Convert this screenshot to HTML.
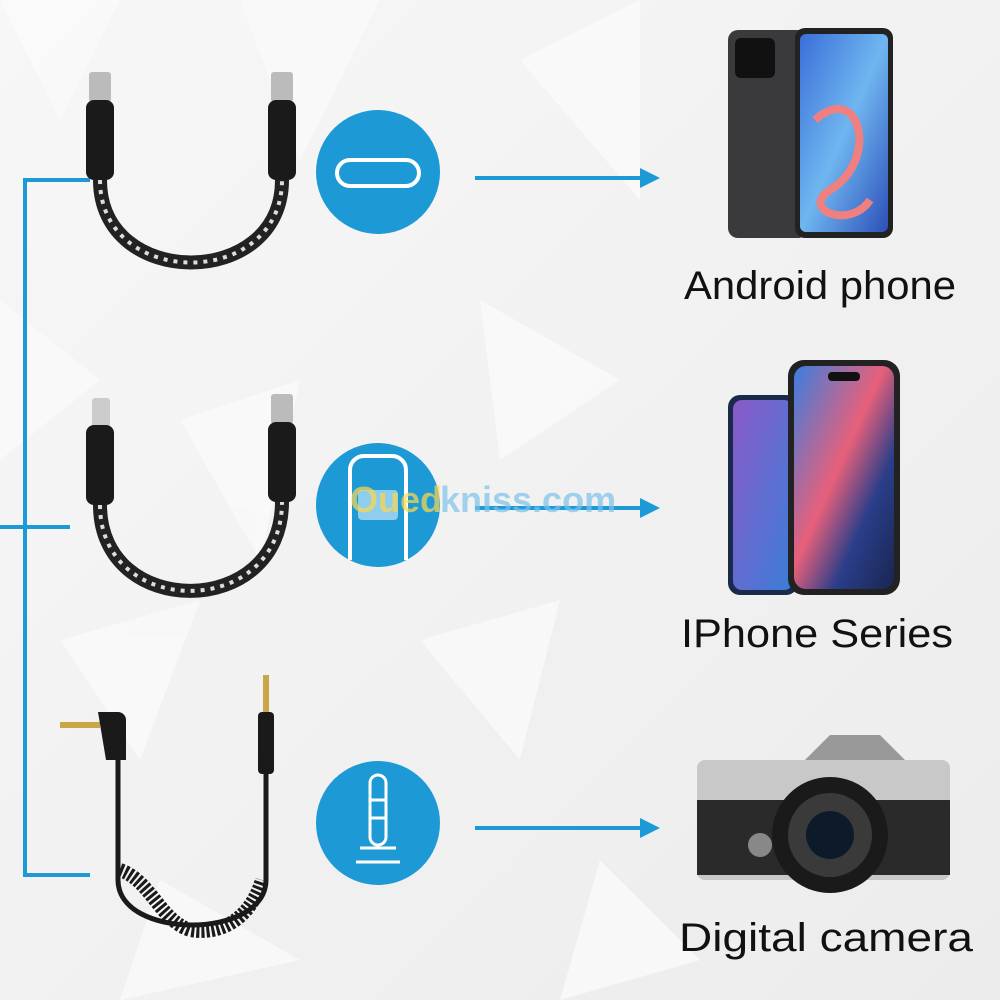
<!DOCTYPE html>
<html><head><meta charset="utf-8"><style>
html,body{margin:0;padding:0;width:1000px;height:1000px;overflow:hidden;background:#f2f2f2;}
svg{display:block}
text{font-family:"Liberation Sans",sans-serif;}
</style></head><body>
<svg width="1000" height="1000" viewBox="0 0 1000 1000">
<defs>
<linearGradient id="bg" x1="0" y1="0" x2="1" y2="1"><stop offset="0" stop-color="#f7f7f7"/><stop offset="1" stop-color="#ececec"/></linearGradient>
<linearGradient id="scr1" x1="0" y1="0" x2="1" y2="1"><stop offset="0" stop-color="#3a6fd8"/><stop offset="0.5" stop-color="#6fb6f0"/><stop offset="1" stop-color="#2c4fb8"/></linearGradient>
<linearGradient id="scr2" x1="0" y1="0" x2="1" y2="1"><stop offset="0" stop-color="#3a7ee0"/><stop offset="0.45" stop-color="#e8607a"/><stop offset="0.7" stop-color="#2a3e8a"/><stop offset="1" stop-color="#1a2550"/></linearGradient>
<linearGradient id="scr3" x1="0" y1="0" x2="1" y2="1"><stop offset="0" stop-color="#8a5ac8"/><stop offset="1" stop-color="#3a7ed8"/></linearGradient>
<marker id="ah" markerUnits="userSpaceOnUse" markerWidth="22" markerHeight="22" refX="2" refY="11" orient="auto"><path d="M0,1 L20,11 L0,21 z" fill="#1d9ad6"/></marker>
</defs>
<rect width="1000" height="1000" fill="url(#bg)"/>
<g fill="#fafafa" opacity="0.8">
<polygon points="0,0 120,0 60,120"/><polygon points="240,0 380,0 300,160"/><polygon points="520,60 640,0 640,200"/>
<polygon points="0,300 100,380 0,460"/><polygon points="180,420 300,380 260,560"/><polygon points="480,300 620,380 500,460"/>
<polygon points="60,640 200,600 140,760"/><polygon points="420,640 560,600 520,760"/><polygon points="600,860 700,960 560,1000"/>
<polygon points="160,880 300,960 120,1000"/>
</g>
<g stroke="#1d9ad6" stroke-width="4" fill="none">
<path d="M90,180 H25 V875 H90"/>
<path d="M0,527 H70"/>
</g>
<g stroke="#1d9ad6" stroke-width="4">
<line x1="475" y1="178" x2="642" y2="178" marker-end="url(#ah)"/>
<line x1="475" y1="508" x2="642" y2="508" marker-end="url(#ah)"/>
<line x1="475" y1="828" x2="642" y2="828" marker-end="url(#ah)"/>
</g>
<circle cx="378" cy="172" r="62" fill="#1d9ad6"/>
<rect x="337" y="160" width="82" height="26" rx="13" fill="none" stroke="#fff" stroke-width="4"/>
<circle cx="378" cy="505" r="62" fill="#1d9ad6"/>
<path d="M350,560 V470 a14,14 0 0 1 14,-14 H392 a14,14 0 0 1 14,14 V560" fill="none" stroke="#fff" stroke-width="4"/>
<rect x="358" y="490" width="40" height="30" rx="4" fill="#fff" opacity="0.5"/>
<circle cx="378" cy="823" r="62" fill="#1d9ad6"/>
<g fill="none" stroke="#fff" stroke-width="3"><rect x="370" y="775" width="16" height="70" rx="8"/><line x1="370" y1="800" x2="386" y2="800"/><line x1="370" y1="818" x2="386" y2="818"/><line x1="360" y1="848" x2="396" y2="848"/><line x1="356" y1="862" x2="400" y2="862"/></g>
<text x="350" y="512" font-size="36" font-weight="bold" fill="#ffd84a" opacity="0.7">Oued</text>
<text x="440" y="512" font-size="36" font-weight="bold" fill="#7cc2ea" opacity="0.7">kniss.com</text>
<g>
<rect x="89" y="72" width="22" height="30" rx="3" fill="#bbb"/><rect x="271" y="72" width="22" height="30" rx="3" fill="#bbb"/>
<rect x="86" y="100" width="28" height="80" rx="8" fill="#1a1a1a"/><rect x="268" y="100" width="28" height="80" rx="8" fill="#1a1a1a"/>
<path d="M100,180 C100,290 282,290 282,180" fill="none" stroke="#222" stroke-width="14"/>
<path d="M100,180 C100,290 282,290 282,180" fill="none" stroke="#ddd" stroke-width="4" stroke-dasharray="4 6"/>
</g>
<g>
<rect x="92" y="398" width="18" height="30" rx="3" fill="#ccc"/><rect x="271" y="394" width="22" height="30" rx="3" fill="#bbb"/>
<rect x="86" y="425" width="28" height="80" rx="8" fill="#1a1a1a"/><rect x="268" y="422" width="28" height="80" rx="8" fill="#1a1a1a"/>
<path d="M100,505 C100,620 282,620 282,502" fill="none" stroke="#222" stroke-width="14"/>
<path d="M100,505 C100,620 282,620 282,502" fill="none" stroke="#ddd" stroke-width="4" stroke-dasharray="4 6"/>
</g>
<g>
<rect x="263" y="675" width="6" height="40" fill="#c9a64a"/>
<rect x="258" y="712" width="16" height="62" rx="4" fill="#1a1a1a"/>
<rect x="60" y="722" width="40" height="6" fill="#c9a64a"/>
<path d="M98,712 h20 a8,8 0 0 1 8,8 v40 h-20 z" fill="#1a1a1a"/>
<path d="M118,760 V880 C118,940 266,940 266,880 V774" fill="none" stroke="#1a1a1a" stroke-width="5"/>
<path d="M120,870 C150,880 160,920 190,930 C220,935 250,920 262,880" fill="none" stroke="#1a1a1a" stroke-width="14" stroke-dasharray="3 2"/>
</g>
<rect x="728" y="30" width="80" height="208" rx="10" fill="#3a3a3c"/>
<rect x="735" y="38" width="40" height="40" rx="6" fill="#111"/>
<rect x="795" y="28" width="98" height="210" rx="10" fill="#222"/>
<rect x="800" y="34" width="88" height="198" rx="6" fill="url(#scr1)"/>
<path d="M815,120 C860,80 880,160 830,190 C800,210 850,230 870,200" fill="none" stroke="#f08080" stroke-width="8"/>
<rect x="728" y="395" width="70" height="200" rx="12" fill="#1a2a4a"/>
<rect x="733" y="400" width="60" height="190" rx="9" fill="url(#scr3)"/>
<rect x="788" y="360" width="112" height="235" rx="16" fill="#222"/>
<rect x="794" y="366" width="100" height="223" rx="12" fill="url(#scr2)"/>
<rect x="828" y="372" width="32" height="9" rx="4" fill="#111"/>
<path d="M805,760 l25,-25 h50 l25,25 z" fill="#999"/>
<rect x="697" y="760" width="253" height="120" rx="8" fill="#c8c8c8"/>
<rect x="697" y="800" width="253" height="75" fill="#2a2a2a"/>
<circle cx="830" cy="835" r="58" fill="#1a1a1a"/>
<circle cx="830" cy="835" r="42" fill="#3a3a3a"/>
<circle cx="830" cy="835" r="24" fill="#0d1a2a"/>
<circle cx="760" cy="845" r="12" fill="#888"/>
<text x="820" y="299" font-size="40" text-anchor="middle" fill="#111" textLength="272" lengthAdjust="spacingAndGlyphs">Android phone</text>
<text x="817" y="647" font-size="40" text-anchor="middle" fill="#111" textLength="272" lengthAdjust="spacingAndGlyphs">IPhone Series</text>
<text x="826" y="951" font-size="40" text-anchor="middle" fill="#111" textLength="294" lengthAdjust="spacingAndGlyphs">Digital camera</text>
</svg>
</body></html>
